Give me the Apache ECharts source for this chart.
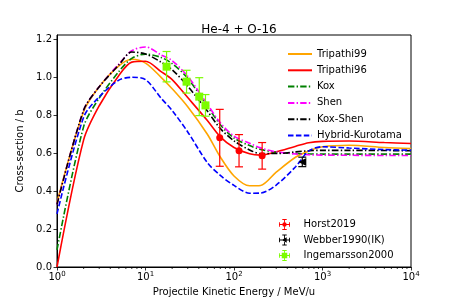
<!DOCTYPE html>
<html>
<head>
<meta charset="utf-8">
<script src="https://cdn.jsdelivr.net/npm/echarts@6/dist/echarts.min.js"></script>
<style>html,body{margin:0;padding:0;background:#fff}#c{width:457px;height:305px}</style>
</head>
<body>
<div id="c"></div>
<script>
// ---- data ----
const energies = [1, 2, 3, 5, 7, 10, 15, 20, 30, 50, 70, 100, 150, 200, 300, 500, 700, 1000, 2000, 5000, 10000];
const tripathi99 = [0.34, 0.82, 0.95, 1.06, 1.095, 1.075, 1.00, 0.94, 0.845, 0.70, 0.58, 0.48, 0.428, 0.43, 0.50, 0.58, 0.612, 0.634, 0.642, 0.63, 0.625];
const tripathi96 = [0.0, 0.67, 0.85, 1.01, 1.08, 1.085, 1.03, 0.988, 0.893, 0.772, 0.686, 0.63, 0.597, 0.59, 0.607, 0.637, 0.655, 0.662, 0.664, 0.656, 0.651];
const kox = [0.09, 0.74, 0.89, 1.03, 1.10, 1.122, 1.105, 1.072, 0.995, 0.848, 0.75, 0.68, 0.64, 0.62, 0.605, 0.598, 0.596, 0.595, 0.595, 0.595, 0.595];
const shen = [0.33, 0.827, 0.95, 1.07, 1.14, 1.16, 1.118, 1.088, 1.005, 0.858, 0.76, 0.69, 0.652, 0.628, 0.607, 0.596, 0.592, 0.59, 0.589, 0.588, 0.588];
const koxShen = [0.33, 0.827, 0.95, 1.065, 1.133, 1.123, 1.08, 1.04, 0.953, 0.822, 0.73, 0.665, 0.617, 0.598, 0.598, 0.607, 0.613, 0.615, 0.615, 0.614, 0.613];
const hybridKurotama = [0.28, 0.79, 0.897, 0.985, 1.0, 0.988, 0.89, 0.825, 0.712, 0.55, 0.483, 0.43, 0.389, 0.39, 0.432, 0.53, 0.612, 0.634, 0.627, 0.619, 0.616];

const horstE = [69, 114, 208];
const horstY = [0.681, 0.613, 0.586];
const horstErr = [0.15, 0.085, 0.07];
const webberE = [591];
const webberY = [0.554];
const webberErr = [0.025];
const ingeE = [17.3, 29.1, 40.5, 47.6];
const ingeY = [1.056, 0.977, 0.898, 0.852];
const ingeErr = [0.08, 0.06, 0.10, 0.057];

const xTickExponents = [0, 1, 2, 3, 4];
const yTicks = [0, 0.2, 0.4, 0.6, 0.8, 1.0, 1.2];

// ---- build ----
const FONT = 'DejaVu Sans';
function pairs(xs, ys) { return xs.map((x, i) => [x, ys[i]]); }
function triples(xs, ys, es) { return xs.map((x, i) => [x, ys[i], es[i]]); }

const minorTicks = [];
for (let k = 0; k < 4; k++) for (let m = 2; m <= 9; m++) minorTicks.push([m * Math.pow(10, k), 0]);

function lineSeries(name, ys, color, type) {
  return {
    name, type: 'line', data: pairs(energies, ys), symbol: 'none', showSymbol: false,
    smooth: 0.3,
    lineStyle: { color, width: 1.6, type: type || 'solid' }, itemStyle: { color },
    z: 3, silent: true, animation: false
  };
}
function errSeries(name, xs, ys, es, color) {
  return {
    name, type: 'custom', data: triples(xs, ys, es), clip: false, z: 4, animation: false,
    itemStyle: { color },
    renderItem(params, api) {
      const x = api.value(0), y = api.value(1), e = api.value(2);
      const t = api.coord([x, y + e]), b = api.coord([x, y - e]);
      const cw = 4;
      const st = { stroke: color, lineWidth: 1.2 };
      return { type: 'group', children: [
        { type: 'line', shape: { x1: t[0], y1: t[1], x2: b[0], y2: b[1] }, style: st },
        { type: 'line', shape: { x1: t[0] - cw, y1: t[1], x2: t[0] + cw, y2: t[1] }, style: st },
        { type: 'line', shape: { x1: b[0] - cw, y1: b[1], x2: b[0] + cw, y2: b[1] }, style: st }
      ]};
    }
  };
}
function markSeries(name, xs, ys, color, symbol, size, rot) {
  return {
    name, type: 'scatter', data: pairs(xs, ys), symbol, symbolSize: size, symbolRotate: rot || 0,
    itemStyle: { color, opacity: 1 }, z: 5, animation: false
  };
}

const dashdot = [6.4, 2.2, 1.4, 2.2];
const series = [
  lineSeries('Tripathi99', tripathi99, '#FFA500'),
  lineSeries('Tripathi96', tripathi96, '#FF0000'),
  lineSeries('Kox', kox, '#008000', dashdot),
  lineSeries('Shen', shen, '#FF00FF', dashdot),
  lineSeries('Kox-Shen', koxShen, '#000000', dashdot),
  lineSeries('Hybrid-Kurotama', hybridKurotama, '#0000FF', [5.5, 2.4]),
  errSeries('Horst2019', horstE, horstY, horstErr, '#FF0000'),
  markSeries('Horst2019', horstE, horstY, '#FF0000', 'circle', 7),
  errSeries('Webber1990(IK)', webberE, webberY, webberErr, '#000000'),
  markSeries('Webber1990(IK)', webberE, webberY, '#000000', 'triangle', 8, 90),
  errSeries('Ingemarsson2000', ingeE, ingeY, ingeErr, '#7CFC00'),
  markSeries('Ingemarsson2000', ingeE, ingeY, '#7CFC00', 'rect', 8),
  {
    type: 'custom', data: minorTicks, clip: false, silent: true, animation: false,
    renderItem(params, api) {
      const p = api.coord([api.value(0), api.value(1)]);
      return { type: 'line', shape: { x1: p[0], y1: p[1], x2: p[0], y2: p[1] + 2 }, style: { stroke: '#000', lineWidth: 0.8 } };
    }
  }
];

// legend icons: error-bar cross + marker
const bars = 'M6,0 L14,0 L14,1.6 L6,1.6 Z M6,18.4 L14,18.4 L14,20 L6,20 Z M0,6 L1.6,6 L1.6,14 L0,14 Z M18.4,6 L20,6 L20,14 L18.4,14 Z M9.2,0 L10.8,0 L10.8,20 L9.2,20 Z M0,9.2 L20,9.2 L20,10.8 L0,10.8 Z ';
const iconHorst = 'path://' + bars + 'M6,10 A4,4 0 1,1 14,10 A4,4 0 1,1 6,10 Z';
const iconWebber = 'path://' + bars + 'M5,10 L14,5 L14,15 Z';
const iconInge = 'path://' + bars + 'M5,5 L15,5 L15,15 L5,15 Z';

const chart = echarts.init(document.getElementById('c'), null, { renderer: 'canvas' });
chart.setOption({
  animation: false,
  backgroundColor: '#fff',
  title: {
    text: 'He-4 + O-16', left: 234, top: 19, textAlign: 'center',
    textStyle: { fontFamily: FONT, fontSize: 12, fontWeight: 'normal', color: '#000' }
  },
  grid: { left: 57, right: 46, top: 35, bottom: 38, show: true, borderColor: '#000', borderWidth: 1, backgroundColor: 'transparent' },
  xAxis: {
    type: 'log', logBase: 10, min: 1, max: 10000,
    name: 'Projectile Kinetic Energy / MeV/u', nameLocation: 'middle', nameGap: 19,
    nameTextStyle: { fontFamily: FONT, fontSize: 10, color: '#000' },
    axisLine: { show: true, lineStyle: { color: '#000', width: 1 } },
    axisTick: { show: true, inside: false, length: 3.5, lineStyle: { color: '#000', width: 0.8 } },
    minorTick: { show: false },
    splitLine: { show: false },
    axisLabel: {
      color: '#000', fontFamily: FONT, fontSize: 10, margin: 4,
      formatter: v => { const e = Math.round(Math.log10(v)); return xTickExponents.includes(e) ? '10{s|' + e + '}' : ''; },
      rich: { s: { fontFamily: FONT, fontSize: 7, padding: [0, 0, 6, 0], color: '#000' } }
    }
  },
  yAxis: {
    type: 'value', min: 0, max: 1.223, interval: 0.2,
    name: 'Cross-section / b', nameLocation: 'middle', nameGap: 29, nameRotate: 90,
    nameTextStyle: { fontFamily: FONT, fontSize: 10, color: '#000' },
    axisLine: { show: true, lineStyle: { color: '#000', width: 1 } },
    axisTick: { show: true, inside: false, length: 3.5, lineStyle: { color: '#000', width: 0.8 },
      customValues: yTicks },
    splitLine: { show: false },
    axisLabel: {
      color: '#000', fontFamily: FONT, fontSize: 10, margin: 5,
      customValues: yTicks,
      formatter: v => v.toFixed(1)
    }
  },
  legend: [
    {
      orient: 'vertical', left: 282, top: 44, itemWidth: 24, itemHeight: 10, itemGap: 6.3,
      data: ['Tripathi99', 'Tripathi96', 'Kox', 'Shen', 'Kox-Shen', 'Hybrid-Kurotama'],
      itemStyle: { opacity: 0 },
      textStyle: { fontFamily: FONT, fontSize: 10, color: '#000' },
      selectedMode: false
    },
    {
      orient: 'vertical', left: 274, top: 214, itemWidth: 28, itemHeight: 11, itemGap: 4.5,
      data: [
        { name: 'Horst2019', icon: iconHorst },
        { name: 'Webber1990(IK)', icon: iconWebber },
        { name: 'Ingemarsson2000', icon: iconInge }
      ],
      textStyle: { fontFamily: FONT, fontSize: 10, color: '#000' },
      selectedMode: false
    }
  ],
  series
});
</script>
</body>
</html>
